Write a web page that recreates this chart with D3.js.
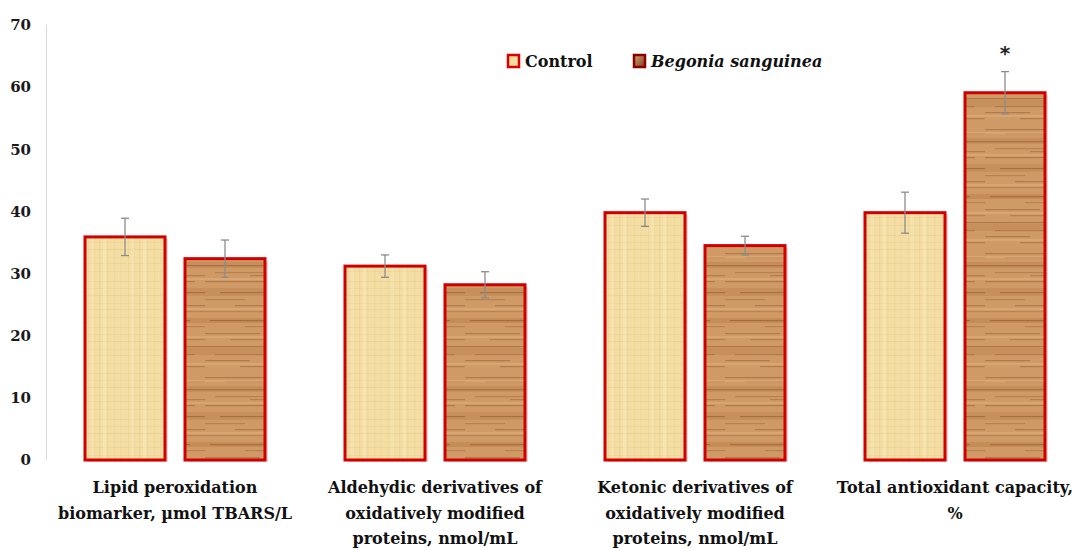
<!DOCTYPE html>
<html>
<head>
<meta charset="utf-8">
<script src="https://cdn.jsdelivr.net/npm/d3@7/dist/d3.min.js"></script>
<style>
  html, body { margin: 0; padding: 0; background: #fff; }
  svg { display: block; }
</style>
</head>
<body>
<svg id="chart" width="1072" height="548"></svg>
<script>
// ---- data ----
const categories = [
  ["Lipid peroxidation", "biomarker, \u00b5mol TBARS/L"],
  ["Aldehydic derivatives of", "oxidatively modified", "proteins, nmol/mL"],
  ["Ketonic derivatives of", "oxidatively modified", "proteins, nmol/mL"],
  ["Total antioxidant capacity,", "%"]
];
const seriesNames = ["Control", "Begonia sanguinea"];
const controlValues = [35.9, 31.2, 39.8, 39.8];
const controlErrors = [3.0, 1.8, 2.2, 3.3];
const begoniaValues = [32.4, 28.2, 34.5, 59.1];
const begoniaErrors = [3.0, 2.1, 1.5, 3.4];
const significance = ["", "", "", "*"];
const yTicks = [0, 10, 20, 30, 40, 50, 60, 70];

// ---- setup ----
const svg = d3.select("#chart");
const y = d3.scaleLinear().domain([0, 70]).range([460, 25]);
const x0 = d3.scaleBand().domain(d3.range(categories.length)).range([45, 1085]);
const x1 = d3.scaleBand().domain([0, 1]).range([0, x0.bandwidth()]).paddingInner(0.2).paddingOuter(0.4);

const defs = svg.append("defs");

// papyrus texture (control)
const pap = defs.append("pattern").attr("id", "papyrus").attr("patternUnits", "userSpaceOnUse")
  .attr("width", 40).attr("height", 46);
pap.append("rect").attr("width", 40).attr("height", 46).attr("fill", "#f4dea4");
[[3, 0.25], [9, 0.15], [14, 0.3], [22, 0.18], [29, 0.28], [35, 0.15]].forEach(([v, o]) => {
  pap.append("rect").attr("x", v).attr("y", 0).attr("width", 1.2).attr("height", 46).attr("fill", "#e0c27f").attr("opacity", o);
});
[[5, 0.25], [12, 0.2], [19, 0.3], [27, 0.18], [33, 0.25], [41, 0.2]].forEach(([v, o]) => {
  pap.append("rect").attr("x", 0).attr("y", v).attr("width", 40).attr("height", 1).attr("fill", "#d8bb7c").attr("opacity", o);
});
[[18, 0.4], [6, 0.3]].forEach(([v, o]) => {
  pap.append("rect").attr("x", v).attr("y", 0).attr("width", 3).attr("height", 46).attr("fill", "#fbefc6").attr("opacity", o);
});

// wood texture (begonia)
const wood = defs.append("pattern").attr("id", "wood").attr("patternUnits", "userSpaceOnUse")
  .attr("width", 80).attr("height", 124);
wood.append("rect").attr("width", 80).attr("height", 124).attr("fill", "#d09a66");
// broad darker bands
[[14, 6, 0.35], [40, 8, 0.3], [70, 5, 0.4], [100, 7, 0.3]].forEach(([v, h, o]) => {
  wood.append("rect").attr("x", 0).attr("y", v).attr("width", 80).attr("height", h).attr("fill", "#b37844").attr("opacity", o);
});
// thin streaks (x, y, width, opacity)
const streaks = [
  [0,5,60,0.45],[20,9,60,0.3],[0,17,80,0.5],[10,24,50,0.35],[45,27,35,0.4],[0,33,70,0.45],
  [15,44,65,0.5],[0,51,40,0.35],[30,57,50,0.45],[0,63,80,0.3],[5,72,60,0.55],[40,78,40,0.35],
  [0,85,55,0.45],[25,91,55,0.35],[0,98,80,0.5],[10,106,60,0.35],[0,112,45,0.45],[35,118,45,0.4]
];
streaks.forEach(([sx, v, w, o]) => {
  wood.append("rect").attr("x", sx).attr("y", v).attr("width", w).attr("height", 1.2).attr("fill", "#8a5428").attr("opacity", o);
});
[[8,2],[30,2],[60,2],[88,2],[115,2]].forEach(([v,h]) => {
  wood.append("rect").attr("x", 0).attr("y", v).attr("width", 80).attr("height", h).attr("fill", "#e6b888").attr("opacity", 0.4);
});

// legend swatch gradient
const lg = defs.append("linearGradient").attr("id", "swatchWood").attr("x1", 0).attr("y1", 0).attr("x2", 1).attr("y2", 1);
lg.append("stop").attr("offset", 0).attr("stop-color", "#d8a070");
lg.append("stop").attr("offset", 1).attr("stop-color", "#7a4020");

const fills = ["url(#papyrus)", "url(#wood)"];

// ---- y axis ----
svg.append("line").attr("x1", 46.5).attr("x2", 46.5).attr("y1", y(70)).attr("y2", y(0))
  .attr("stroke", "#d9d9d9").attr("stroke-width", 1);
svg.append("g").selectAll("text").data(yTicks).join("text")
  .attr("x", 31).attr("y", d => y(d)).attr("dy", "0.35em")
  .attr("text-anchor", "end")
  .attr("font-family", "DejaVu Serif").attr("font-weight", "bold").attr("font-size", 15)
  .attr("fill", "#1a1a1a").text(d => d);

// ---- bars ----
const data = categories.map((c, i) => ({
  i,
  vals: [
    { s: 0, v: controlValues[i], e: controlErrors[i] },
    { s: 1, v: begoniaValues[i], e: begoniaErrors[i] }
  ],
  sig: significance[i]
}));

const groups = svg.append("g").selectAll("g").data(data).join("g")
  .attr("transform", d => `translate(${x0(d.i)},0)`);

// soft shadow
groups.selectAll("rect.shadow").data(d => d.vals).join("rect").attr("class", "shadow")
  .attr("x", d => x1(d.s) + 3).attr("y", d => y(d.v) + 2)
  .attr("width", x1.bandwidth()).attr("height", d => y(0) - y(d.v))
  .attr("fill", "#f2b8b8").attr("opacity", 0.6);

groups.selectAll("rect.bar").data(d => d.vals).join("rect").attr("class", "bar")
  .attr("x", d => x1(d.s)).attr("y", d => y(d.v))
  .attr("width", x1.bandwidth()).attr("height", d => y(0) - y(d.v))
  .attr("fill", d => fills[d.s])
  .attr("stroke", "#d00000").attr("stroke-width", 3);

// error bars
const eb = groups.selectAll("g.err").data(d => d.vals).join("g").attr("class", "err")
  .attr("stroke", "#8c8c8c").attr("stroke-width", 1.3);
eb.append("line")
  .attr("x1", d => x1(d.s) + x1.bandwidth() / 2).attr("x2", d => x1(d.s) + x1.bandwidth() / 2)
  .attr("y1", d => y(d.v + d.e)).attr("y2", d => y(d.v - d.e));
eb.append("line")
  .attr("x1", d => x1(d.s) + x1.bandwidth() / 2 - 4).attr("x2", d => x1(d.s) + x1.bandwidth() / 2 + 4)
  .attr("y1", d => y(d.v + d.e)).attr("y2", d => y(d.v + d.e));
eb.append("line")
  .attr("x1", d => x1(d.s) + x1.bandwidth() / 2 - 4).attr("x2", d => x1(d.s) + x1.bandwidth() / 2 + 4)
  .attr("y1", d => y(d.v - d.e)).attr("y2", d => y(d.v - d.e));

// significance
groups.filter(d => d.sig).append("text")
  .attr("x", x1(1) + x1.bandwidth() / 2)
  .attr("y", d => y(d.vals[1].v + d.vals[1].e) - 12)
  .attr("text-anchor", "middle")
  .attr("font-family", "DejaVu Sans").attr("font-weight", "bold").attr("font-size", 20)
  .attr("fill", "#222").text(d => d.sig);

// category labels
const lab = groups.append("text")
  .attr("text-anchor", "middle")
  .attr("font-family", "DejaVu Serif").attr("font-weight", "bold").attr("font-size", 16)
  .attr("fill", "#111");
lab.selectAll("tspan").data(d => categories[d.i]).join("tspan")
  .attr("x", x0.bandwidth() / 2)
  .attr("y", (d, k) => 493 + k * 25.5)
  .text(d => d);

// ---- legend ----
const legend = svg.append("g");
const legItems = [
  { name: seriesNames[0], sx: 508, tx: 525, fill: "#f4dda0", stroke: "#dd0000", italic: false },
  { name: seriesNames[1], sx: 634, tx: 651, fill: "url(#swatchWood)", stroke: "#8a0000", italic: true }
];
legItems.forEach(it => {
  legend.append("rect").attr("x", it.sx).attr("y", 55).attr("width", 11).attr("height", 12)
    .attr("fill", it.fill).attr("stroke", it.stroke).attr("stroke-width", 2.5);
  legend.append("text").attr("x", it.tx).attr("y", 61).attr("dy", "0.35em")
    .attr("font-family", "DejaVu Serif").attr("font-weight", "bold").attr("font-size", 16)
    .attr("font-style", it.italic ? "italic" : "normal")
    .attr("fill", "#111").text(it.name);
});
</script>
</body>
</html>
